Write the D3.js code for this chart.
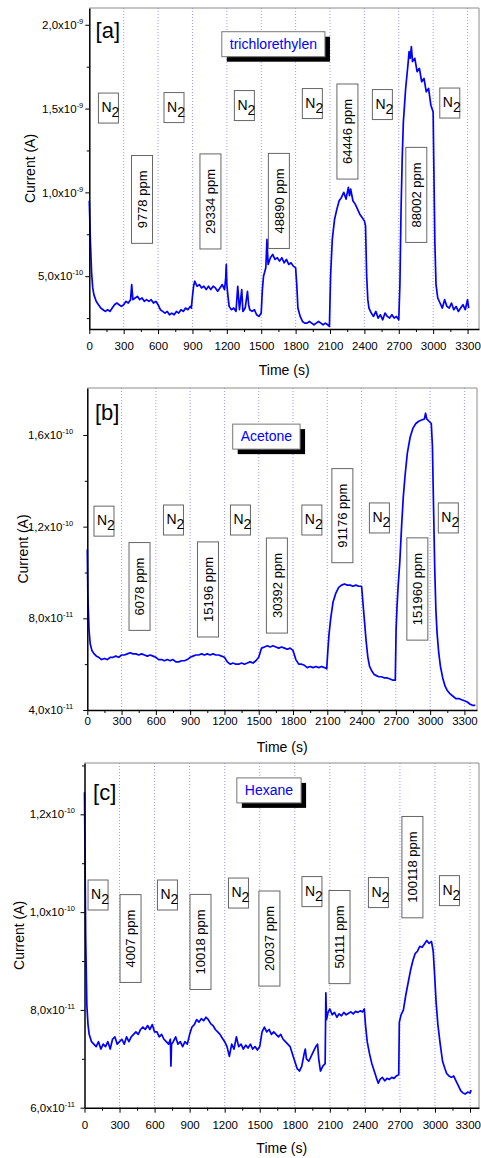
<!DOCTYPE html>
<html>
<head>
<meta charset="utf-8"/>
<title>Sensor response</title>
<script src="https://d3js.org/d3.v7.min.js"></script>
<style>
  body { margin: 0; background: #fff; }
  svg { display: block; font-family: "Liberation Sans", Arial, sans-serif; }
</style>
</head>
<body>
<div id="chart"></div>
<script>
// [time (s), current]
// panel a, current in units of 1e-9 A
const seriesA = [[0,0.95],[10,0.70],[20,0.52],[30,0.43],[40,0.39],[60,0.35],[80,0.33],[100,0.31],[120,0.30],[140,0.29],
  [160,0.30],[180,0.29],[200,0.31],[220,0.33],[240,0.34],[260,0.33],[280,0.32],[300,0.33],[320,0.35],[340,0.34],
  [360,0.36],[370,0.45],[380,0.36],[400,0.37],[420,0.38],[440,0.36],[460,0.37],[480,0.35],[500,0.36],[520,0.35],
  [540,0.36],[560,0.34],[580,0.35],[600,0.33],[620,0.30],[640,0.29],[660,0.28],[680,0.29],[700,0.27],[720,0.28],
  [740,0.27],[760,0.29],[780,0.28],[800,0.30],[820,0.29],[840,0.31],[860,0.30],[880,0.32],[890,0.31],[900,0.38],
  [910,0.44],[920,0.47],[940,0.44],[960,0.45],[980,0.43],[1000,0.44],[1020,0.42],[1040,0.44],[1060,0.42],[1080,0.44],
  [1100,0.43],[1120,0.41],[1140,0.43],[1160,0.45],[1180,0.42],[1190,0.49],[1195,0.57],[1200,0.45],[1210,0.38],[1220,0.32],
  [1240,0.30],[1260,0.31],[1280,0.29],[1295,0.44],[1310,0.30],[1330,0.42],[1340,0.29],[1360,0.31],[1380,0.41],[1390,0.33],
  [1400,0.30],[1420,0.29],[1440,0.30],[1460,0.27],[1480,0.26],[1500,0.28],[1510,0.42],[1520,0.50],[1540,0.55],[1550,0.72],
  [1560,0.57],[1580,0.61],[1600,0.63],[1620,0.60],[1640,0.61],[1660,0.59],[1680,0.61],[1700,0.58],[1720,0.60],[1740,0.57],
  [1760,0.58],[1780,0.56],[1800,0.55],[1810,0.45],[1820,0.31],[1840,0.26],[1860,0.23],[1880,0.22],[1900,0.22],[1920,0.23],
  [1940,0.22],[1960,0.21],[1980,0.22],[2000,0.23],[2020,0.22],[2040,0.21],[2060,0.22],[2080,0.21],[2095,0.20],[2105,0.50],
  [2120,0.72],[2140,0.84],[2160,0.90],[2180,0.95],[2200,0.97],[2220,1.00],[2240,0.96],[2260,1.03],[2270,0.98],[2280,1.02],
  [2300,0.95],[2320,0.93],[2340,0.90],[2360,0.87],[2380,0.85],[2400,0.83],[2410,0.80],[2420,0.50],[2430,0.36],[2440,0.31],
  [2460,0.28],[2480,0.26],[2500,0.29],[2520,0.25],[2540,0.27],[2560,0.24],[2580,0.28],[2600,0.26],[2620,0.25],[2640,0.27],
  [2660,0.25],[2680,0.26],[2700,0.24],[2710,0.45],[2720,0.90],[2730,1.20],[2740,1.42],[2760,1.62],[2780,1.76],[2790,1.84],
  [2800,1.80],[2810,1.87],[2820,1.78],[2840,1.80],[2860,1.72],[2880,1.74],[2900,1.66],[2920,1.68],[2940,1.60],[2960,1.62],
  [2980,1.52],[3000,1.48],[3005,1.20],[3015,0.70],[3025,0.45],[3040,0.37],[3060,0.34],[3080,0.31],[3100,0.36],[3120,0.32],
  [3140,0.31],[3160,0.34],[3180,0.30],[3200,0.32],[3220,0.29],[3240,0.31],[3260,0.33],[3280,0.30],[3300,0.36],[3310,0.31]]

// panel b, current in units of 1e-11 A
const seriesB = [[0,11.0],[5,9.0],[15,7.5],[25,6.9],[40,6.6],[60,6.45],[80,6.35],[100,6.3],[125,6.2],[150,6.25],
  [175,6.2],[200,6.3],[225,6.3],[250,6.35],[275,6.3],[300,6.4],[325,6.4],[350,6.45],[375,6.5],[400,6.45],
  [425,6.45],[450,6.4],[475,6.45],[500,6.4],[525,6.35],[550,6.4],[575,6.35],[600,6.3],[625,6.2],[650,6.2],
  [675,6.15],[700,6.2],[725,6.15],[750,6.2],[775,6.1],[800,6.1],[825,6.15],[850,6.15],[875,6.2],[900,6.3],
  [925,6.35],[950,6.4],[975,6.4],[1000,6.45],[1025,6.4],[1050,6.45],[1075,6.4],[1100,6.45],[1125,6.4],[1150,6.4],
  [1175,6.35],[1200,6.3],[1225,6.1],[1250,6.0],[1275,6.05],[1300,6.0],[1325,6.0],[1350,6.05],[1375,6.0],[1400,6.05],
  [1425,6.1],[1450,6.05],[1475,6.15],[1500,6.3],[1525,6.7],[1550,6.75],[1575,6.8],[1600,6.75],[1625,6.8],[1650,6.75],
  [1675,6.7],[1700,6.75],[1725,6.7],[1750,6.65],[1775,6.7],[1800,6.6],[1825,6.2],[1850,6.0],[1875,6.0],[1900,5.95],
  [1925,5.85],[1950,5.9],[1975,5.85],[2000,5.9],[2025,5.85],[2050,5.9],[2075,5.85],[2095,5.8],[2105,6.6],[2115,7.3],
  [2130,8.0],[2150,8.7],[2175,9.1],[2200,9.35],[2225,9.45],[2250,9.5],[2275,9.45],[2300,9.45],[2325,9.4],[2350,9.45],
  [2375,9.4],[2400,9.4],[2410,8.8],[2425,7.9],[2440,7.0],[2455,6.3],[2470,5.9],[2490,5.7],[2510,5.55],[2530,5.5],
  [2550,5.45],[2575,5.45],[2600,5.4],[2625,5.4],[2650,5.35],[2675,5.3],[2695,5.3],[2702,7.5],[2710,8.5],[2720,9.4],
  [2735,10.5],[2750,12.0],[2765,13.3],[2780,14.2],[2800,15.2],[2825,15.9],[2850,16.3],[2875,16.5],[2900,16.6],[2925,16.65],
  [2950,16.7],[2960,16.95],[2970,16.7],[2990,16.6],[3010,16.5],[3020,15.5],[3030,12.8],[3040,10.2],[3050,8.4],[3060,7.4],
  [3075,6.5],[3090,5.9],[3110,5.4],[3130,5.05],[3150,4.85],[3175,4.7],[3200,4.6],[3225,4.5],[3250,4.5],[3275,4.45],
  [3300,4.4],[3325,4.35],[3350,4.25],[3375,4.2],[3395,4.2]]

// panel c, current in units of 1e-11 A
const seriesC = [[0,12.45],[5,11.0],[10,9.5],[20,8.1],[30,7.7],[40,7.5],[60,7.35],[80,7.3],[100,7.25],[120,7.35],
  [140,7.2],[160,7.3],[180,7.25],[200,7.35],[220,7.2],[240,7.4],[260,7.45],[280,7.3],[300,7.35],[320,7.4],
  [340,7.3],[360,7.45],[380,7.35],[400,7.45],[420,7.5],[440,7.55],[460,7.5],[480,7.6],[500,7.65],[520,7.6],
  [540,7.68],[560,7.6],[580,7.7],[600,7.55],[620,7.55],[640,7.45],[660,7.5],[680,7.4],[700,7.35],[720,7.3],
  [735,7.4],[740,6.85],[745,7.3],[760,7.35],[780,7.45],[800,7.3],[820,7.35],[840,7.25],[860,7.35],[880,7.3],
  [900,7.5],[920,7.65],[940,7.7],[960,7.8],[980,7.75],[1000,7.82],[1020,7.78],[1040,7.85],[1060,7.8],[1080,7.72],
  [1100,7.68],[1120,7.6],[1140,7.55],[1160,7.5],[1180,7.42],[1200,7.35],[1220,7.25],[1240,7.05],[1260,7.3],[1280,7.2],
  [1300,7.45],[1320,7.25],[1340,7.3],[1360,7.2],[1380,7.28],[1400,7.22],[1420,7.3],[1440,7.2],[1460,7.25],[1480,7.18],
  [1500,7.25],[1520,7.55],[1540,7.65],[1560,7.55],[1580,7.6],[1600,7.5],[1620,7.55],[1640,7.5],[1660,7.45],[1680,7.5],
  [1700,7.4],[1720,7.35],[1740,7.3],[1760,7.25],[1780,7.1],[1800,6.95],[1820,6.8],[1840,6.75],[1860,6.85],[1880,7.1],
  [1890,7.2],[1900,7.0],[1920,6.95],[1940,7.05],[1960,7.15],[1980,7.25],[1995,7.3],[2005,7.0],[2020,6.75],[2040,6.85],
  [2060,6.9],[2066,8.35],[2072,7.8],[2085,7.95],[2100,8.02],[2120,7.9],[2140,7.95],[2160,7.85],[2180,7.92],[2200,7.88],
  [2220,7.95],[2240,7.9],[2260,7.93],[2280,7.96],[2300,7.92],[2320,7.97],[2340,7.95],[2360,7.98],[2380,7.96],[2395,8.02],
  [2405,7.7],[2420,7.35],[2440,7.1],[2460,6.9],[2480,6.75],[2500,6.6],[2515,6.5],[2530,6.58],[2550,6.62],[2570,6.55],
  [2590,6.6],[2610,6.58],[2630,6.62],[2650,6.6],[2670,6.65],[2690,6.68],[2695,7.75],[2710,7.9],[2730,8.0],[2750,8.3],
  [2770,8.55],[2790,8.8],[2810,9.0],[2830,9.15],[2850,9.2],[2870,9.3],[2890,9.28],[2910,9.35],[2930,9.42],[2950,9.36],
  [2970,9.4],[2985,9.2],[2995,8.8],[3010,8.15],[3025,7.7],[3045,7.3],[3065,6.95],[3085,6.8],[3100,6.7],[3120,6.65],
  [3140,6.62],[3160,6.65],[3180,6.55],[3200,6.45],[3220,6.35],[3240,6.3],[3260,6.28],[3280,6.32],[3300,6.3],[3310,6.36]]

const compounds = ['trichlorethylen', 'Acetone', 'Hexane']
const panelTags = ['[a]', '[b]', '[c]']
const ppmA = ['9778 ppm', '29334 ppm', '48890 ppm', '64446 ppm', '88002 ppm']
const ppmB = ['6078 ppm', '15196 ppm', '30392 ppm', '91176 ppm', '151960 ppm']
const ppmC = ['4007 ppm', '10018 ppm', '20037 ppm', '50111 ppm', '100118 ppm']

const xTicks = d3.range(0, 3301, 300)
const xMinor = d3.range(150, 3400, 300)
const gridTimes = d3.range(300, 3301, 300)

const panels = [
  { series: seriesA, unit: 1e-9, ppm: ppmA, name: compounds[0], tag: panelTags[0],
    left: 89.3, right: 479, top: 8, bottom: 329, xMax: 3400, yDomain: [1.85e-10, 2.1e-9],
    yTicks: [5e-10, 1e-9, 1.5e-9, 2e-9], yMinor: [2.5e-10, 7.5e-10, 1.25e-9, 1.75e-9],
    labelGap: 6, xPad: 7.5, titleDy: 46, yTitleX: 30,
    tagPos: [55, 1.92], namePos: [1606, 1.887],
    n2Pos: [[167, 1.503], [739, 1.506], [1353, 1.518], [1946, 1.53], [2557, 1.524], [3145, 1.533]],
    ppmPos: [[460, 0.958], [1057, 0.946], [1654, 0.949], [2252, 1.363], [2853, 0.985]] },
  { series: seriesB, unit: 1e-11, ppm: ppmB, name: compounds[1], tag: panelTags[1],
    left: 87.3, right: 477, top: 388, bottom: 710, xMax: 3410, yDomain: [4e-11, 1.805e-10],
    yTicks: [4e-11, 8e-11, 1.2e-10, 1.6e-10], yMinor: [6e-11, 1e-10, 1.4e-10],
    labelGap: 14, xPad: 1.5, titleDy: 41.5, yTitleX: 23,
    tagPos: [67, 16.65], namePos: [1567, 15.95],
    n2Pos: [[146, 12.24], [754, 12.29], [1340, 12.29], [1965, 12.29], [2556, 12.38], [3159, 12.38]],
    ppmPos: [[457, 9.39], [1056, 9.26], [1659, 9.43], [2232, 12.48], [2888, 9.28]] },
  { series: seriesC, unit: 1e-11, ppm: ppmC, name: compounds[2], tag: panelTags[2],
    left: 84.5, right: 479, top: 763, bottom: 1107.7, xMax: 3377, yDomain: [6e-11, 1.305e-10],
    yTicks: [6e-11, 8e-11, 1e-10, 1.2e-10], yMinor: [7e-11, 9e-11, 1.1e-10, 1.3e-10],
    labelGap: 9.5, xPad: 8, titleDy: 45, yTitleX: 19,
    tagPos: [73, 12.29], namePos: [1579, 12.5],
    n2Pos: [[116, 10.35], [710, 10.35], [1318, 10.39], [1947, 10.42], [2516, 10.40], [3124, 10.44]],
    ppmPos: [[394, 9.46], [993, 9.39], [1583, 9.46], [2183, 9.49], [2807, 10.92]] }
]

const svg = d3.select('#chart').append('svg').attr('width', 481).attr('height', 1158)

function expLabel(v) {
  const e = Math.floor(Math.log10(v) + 1e-9)
  const m = (v / Math.pow(10, e)).toFixed(1).replace('.', ',')
  return [m + 'x10', String(e)]
}

function drawPanel(p) {
  const x = d3.scaleLinear().domain([0, p.xMax]).range([p.left, p.right])
  const y = d3.scaleLinear().domain(p.yDomain).range([p.bottom, p.top])
  const g = svg.append('g')

  // dotted lines at gas switching times
  g.selectAll('.grid').data(gridTimes).enter().append('line')
    .attr('x1', d => x(d)).attr('x2', d => x(d))
    .attr('y1', p.top).attr('y2', p.bottom)
    .attr('stroke', '#8f8fff').attr('stroke-width', 0.9).attr('stroke-dasharray', '1,2')

  g.append('path')
    .attr('d', `M${p.left},${p.top}H${p.right}V${p.bottom}`)
    .attr('fill', 'none').attr('stroke', '#8c8c8c').attr('stroke-width', 1)

  // curve
  g.append('path').datum(p.series)
    .attr('fill', 'none').attr('stroke', '#0000ff').attr('stroke-width', 1.7)
    .attr('stroke-linejoin', 'round')
    .attr('d', d3.line().x(d => x(d[0])).y(d => y(d[1] * p.unit)))

  // x axis
  const xa = g.append('g').attr('transform', `translate(0,${p.bottom})`)
    .call(d3.axisBottom(x).tickValues(xTicks).tickFormat(d3.format('d'))
      .tickSize(5).tickSizeOuter(0).tickPadding(p.xPad))
  g.append('g').attr('transform', `translate(0,${p.bottom})`)
    .call(d3.axisBottom(x).tickValues(xMinor).tickSize(3).tickFormat(''))
    .call(a => a.select('.domain').remove())

  // y axis
  g.append('g').attr('transform', `translate(${p.left},0)`)
    .call(d3.axisLeft(y).tickValues(p.yTicks).tickSize(4).tickSizeOuter(0).tickFormat(''))
  g.append('g').attr('transform', `translate(${p.left},0)`)
    .call(d3.axisLeft(y).tickValues(p.yMinor).tickSize(2.5).tickFormat(''))
    .call(a => a.select('.domain').remove())

  g.selectAll('.domain').attr('stroke', '#000').attr('stroke-width', 1.5)
  g.selectAll('.tick line').attr('stroke', '#000')
  xa.selectAll('text').attr('font-family', '"Liberation Sans", Arial, sans-serif')
    .attr('font-size', 11.5).attr('fill', '#000')
    .each(function (d) {
      // keep the last label inside the page
      const over = x(d) + this.getComputedTextLength() / 2 - 480.5
      if (over > 0) d3.select(this).attr('dx', -over)
    })

  p.yTicks.forEach(v => {
    const parts = expLabel(v)
    const t = g.append('text')
      .attr('x', p.left - p.labelGap).attr('y', y(v)).attr('dy', '0.36em')
      .attr('text-anchor', 'end').attr('font-size', 11.5)
    t.append('tspan').text(parts[0])
    t.append('tspan').attr('font-size', 7.5).attr('dy', -5).text(parts[1])
  })

  // axis titles
  g.append('text')
    .attr('x', (p.left + p.right) / 2).attr('y', p.bottom + p.titleDy)
    .attr('text-anchor', 'middle').attr('font-size', 14).text('Time (s)')
  g.append('text')
    .attr('transform', `translate(${p.yTitleX},${(p.top + p.bottom) / 2}) rotate(-90)`)
    .attr('dy', '0.35em').attr('text-anchor', 'middle').attr('font-size', 14).text('Current (A)')

  // panel tag
  g.append('text')
    .attr('x', x(p.tagPos[0])).attr('y', y(p.tagPos[1] * p.unit))
    .attr('font-size', 22).text(p.tag)

  // compound name box with shadow
  const nb = g.append('g')
    .attr('transform', `translate(${x(p.namePos[0])},${y(p.namePos[1] * p.unit)})`)
  const nameText = nb.append('text').attr('text-anchor', 'middle').attr('dy', '0.36em')
    .attr('font-size', 14).attr('fill', '#0000ff').text(p.name)
  const nw = nameText.node().getComputedTextLength() + 16
  nb.insert('rect', 'text').attr('x', -nw / 2 + 5).attr('y', -12 + 5)
    .attr('width', nw).attr('height', 25).attr('fill', '#000')
  nb.insert('rect', 'text').attr('x', -nw / 2).attr('y', -12)
    .attr('width', nw).attr('height', 25).attr('fill', '#fff')
    .attr('stroke', '#777').attr('stroke-width', 1)

  // N2 boxes
  p.n2Pos.forEach(pos => {
    const b = g.append('g').attr('transform', `translate(${x(pos[0])},${y(pos[1] * p.unit)})`)
    b.append('rect').attr('x', -10).attr('y', -15).attr('width', 20).attr('height', 30)
      .attr('fill', '#fff').attr('stroke', '#666').attr('stroke-width', 1)
    const t = b.append('text').attr('x', -7).attr('y', 4).attr('font-size', 14)
    t.append('tspan').text('N')
    t.append('tspan').attr('dy', 5).text('2')
  })

  // concentration boxes, vertical text
  p.ppm.forEach((label, i) => {
    const pos = p.ppmPos[i]
    const b = g.append('g')
      .attr('transform', `translate(${x(pos[0])},${y(pos[1] * p.unit)}) rotate(-90)`)
    const t = b.append('text').attr('text-anchor', 'middle').attr('dy', '0.36em')
      .attr('font-size', 13).text(label)
    const w = t.node().getComputedTextLength() + 30
    b.insert('rect', 'text').attr('x', -w / 2).attr('y', -10.5)
      .attr('width', w).attr('height', 21)
      .attr('fill', '#fff').attr('stroke', '#666').attr('stroke-width', 1)
  })
}

panels.forEach(drawPanel)
</script>
</body>
</html>
